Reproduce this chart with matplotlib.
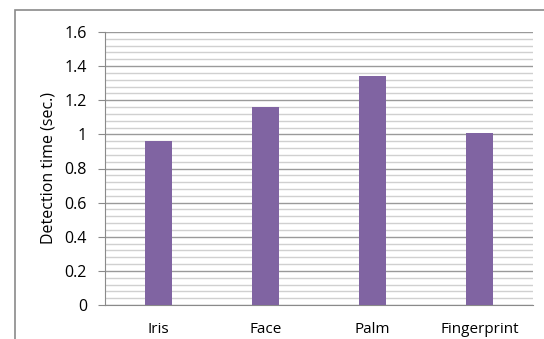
import numpy as np
import matplotlib.pyplot as plt
from matplotlib.patches import Rectangle
from matplotlib.ticker import MultipleLocator

plt.rcParams['font.family'] = ['Open Sans', 'DejaVu Sans']

# detection time per biometric modality
modalities = ["Iris", "Face", "Palm", "Fingerprint"]
detect_time = [0.96, 1.16, 1.34, 1.01]

bar_color = "#8064A2"

fig = plt.figure(figsize=(5.44, 3.39), dpi=100)
ax = fig.add_axes([105 / 544, 1 - 305 / 339, 428 / 544, 273 / 339])

x = np.arange(len(modalities))
ax.bar(x, detect_time, width=0.25, color=bar_color, zorder=3)

ax.set_xlim(-0.5, len(modalities) - 0.5)
ax.set_ylim(0, 1.6)
ax.yaxis.set_major_locator(MultipleLocator(0.2))
ax.yaxis.set_minor_locator(MultipleLocator(0.04))
ax.set_yticks([0, 0.2, 0.4, 0.6, 0.8, 1.0, 1.2, 1.4, 1.6])
ax.set_yticklabels(["0", "0.2", "0.4", "0.6", "0.8", "1", "1.2", "1.4", "1.6"])
ax.set_xticks(x)
ax.set_xticklabels(modalities)

ax.grid(axis="y", which="major", color="#9a9a9a", linewidth=1.0, zorder=0)
ax.grid(axis="y", which="minor", color="#d0d0d0", linewidth=1.0, zorder=0)

for side in ["top", "right"]:
    ax.spines[side].set_visible(False)
ax.spines["left"].set_color("#8a8a8a")
ax.spines["bottom"].set_color("#8a8a8a")

ax.tick_params(axis="y", which="major", length=5, color="#8a8a8a", labelsize=11.5, pad=8)
ax.tick_params(axis="y", which="minor", length=0)
ax.tick_params(axis="x", length=0, labelsize=11, pad=12)

ax.set_ylabel("Detection time (sec.)", fontsize=11.5, labelpad=6)

# chart frame, cut off at the right and bottom
fig.patches.append(Rectangle((15 / 544, -0.1), 1.2, 1 - 10 / 339 + 0.1,
                             transform=fig.transFigure, fill=False,
                             edgecolor="#8a8a8a", linewidth=1.2))

fig.savefig("out.png", dpi=100)
